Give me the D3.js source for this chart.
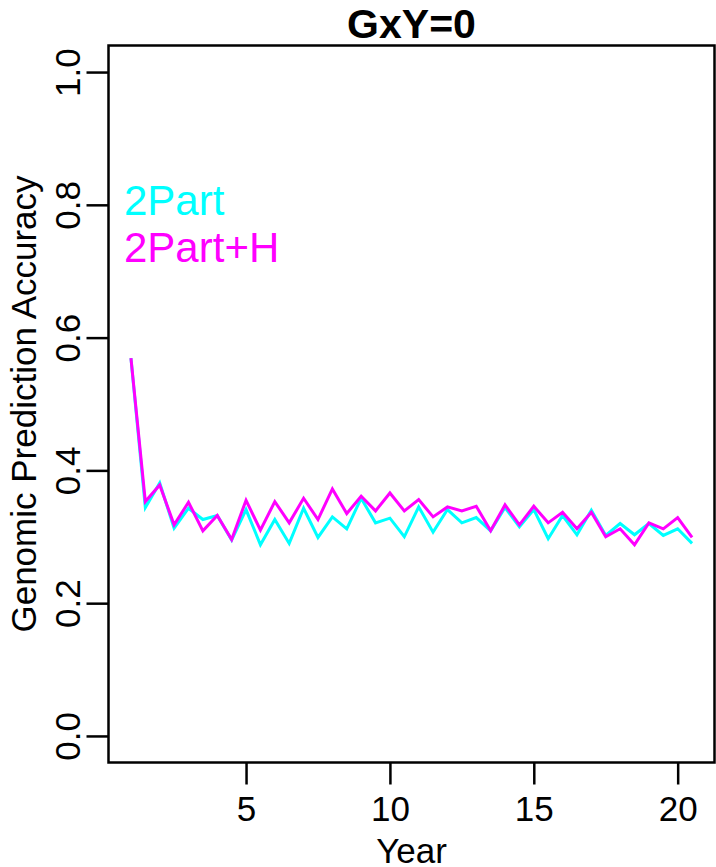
<!DOCTYPE html>
<html><head><meta charset="utf-8">
<script src="https://cdn.jsdelivr.net/npm/d3@7"></script>
<style>body{margin:0;background:#fff}svg{display:block;font-family:"Liberation Sans",Arial,Helvetica,sans-serif}</style>
</head><body>
<script>
const years = d3.range(40).map(i => 1 + i * 0.5);
const part2 = [0.569,0.344,0.381,0.313,0.343,0.326,0.332,0.295,0.341,0.288,
               0.326,0.290,0.343,0.299,0.330,0.312,0.358,0.321,0.328,0.300,
               0.345,0.307,0.341,0.321,0.329,0.309,0.344,0.315,0.341,0.297,
               0.332,0.303,0.340,0.302,0.320,0.303,0.320,0.302,0.312,0.290];
const part2H = [0.569,0.353,0.378,0.318,0.352,0.309,0.332,0.296,0.355,0.310,
                0.353,0.321,0.358,0.326,0.372,0.335,0.361,0.339,0.366,0.339,
                0.356,0.330,0.345,0.339,0.346,0.309,0.348,0.318,0.346,0.321,
                0.337,0.312,0.337,0.300,0.312,0.288,0.321,0.312,0.329,0.299];
const xTicks = [5, 10, 15, 20];
const yTicks = [0, 0.2, 0.4, 0.6, 0.8, 1.0];
const seriesNames = ["2Part", "2Part+H"];
const seriesColors = ["#00FFFF", "#FF00FF"];

const W = 716, H = 867;
const L = 108.5, R = 714.5, T = 45.5, B = 762.5;
const svg = d3.select("body").append("svg").attr("width", W).attr("height", H);

const x = d3.scaleLinear().domain([0.22, 21.28]).range([L, R]);
const y = d3.scaleLinear().domain([-0.04, 1.04]).range([B, T]);

// plot box
svg.append("rect").attr("x", L).attr("y", T).attr("width", R - L).attr("height", B - T)
  .attr("fill", "none").attr("stroke", "#000").attr("stroke-width", 2.5);

// x axis
const xa = svg.append("g").attr("transform", `translate(0,${B})`)
  .call(d3.axisBottom(x).tickValues(xTicks).tickFormat(d3.format("d")).tickSize(22).tickPadding(12));
xa.select(".domain").remove();
xa.selectAll("line").attr("stroke-width", 2.5);
xa.selectAll("text").attr("font-size", 35).attr("fill", "#000")
  .attr("font-family", "'Liberation Sans',Arial,sans-serif");

// y axis
const ya = svg.append("g").attr("transform", `translate(${L},0)`)
  .call(d3.axisLeft(y).tickValues(yTicks).tickFormat(d3.format(".1f")).tickSize(22).tickPadding(0));
ya.select(".domain").remove();
ya.selectAll("line").attr("stroke-width", 2.5);
ya.selectAll("text").attr("font-size", 35).attr("fill", "#000")
  .attr("font-family", "'Liberation Sans',Arial,sans-serif")
  .attr("text-anchor", "middle").attr("dy", null)
  .attr("transform", "rotate(-90)")
  .attr("x", 0).attr("y", -29);

// titles
svg.append("text").attr("x", (L + R) / 2).attr("y", 38).attr("text-anchor", "middle")
  .attr("font-size", 41).attr("font-weight", "bold").text("GxY=0");
svg.append("text").attr("x", (L + R) / 2).attr("y", 863).attr("text-anchor", "middle")
  .attr("font-size", 35).text("Year");
svg.append("text").attr("transform", `translate(36,${(T + B) / 2}) rotate(-90)`)
  .attr("text-anchor", "middle").attr("font-size", 35).text("Genomic Prediction Accuracy");

// lines
const line = d3.line().x((d, i) => x(years[i])).y(d => y(d));
[part2, part2H].forEach((s, i) => {
  svg.append("path").datum(s).attr("d", line).attr("fill", "none")
    .attr("stroke", seriesColors[i]).attr("stroke-width", 3).attr("stroke-linejoin", "miter");
});

// legend
seriesNames.forEach((n, i) => {
  svg.append("text").attr("x", 124).attr("y", 215 + i * 47).attr("font-size", 42)
    .attr("fill", seriesColors[i]).text(n);
});
</script>
</body></html>
